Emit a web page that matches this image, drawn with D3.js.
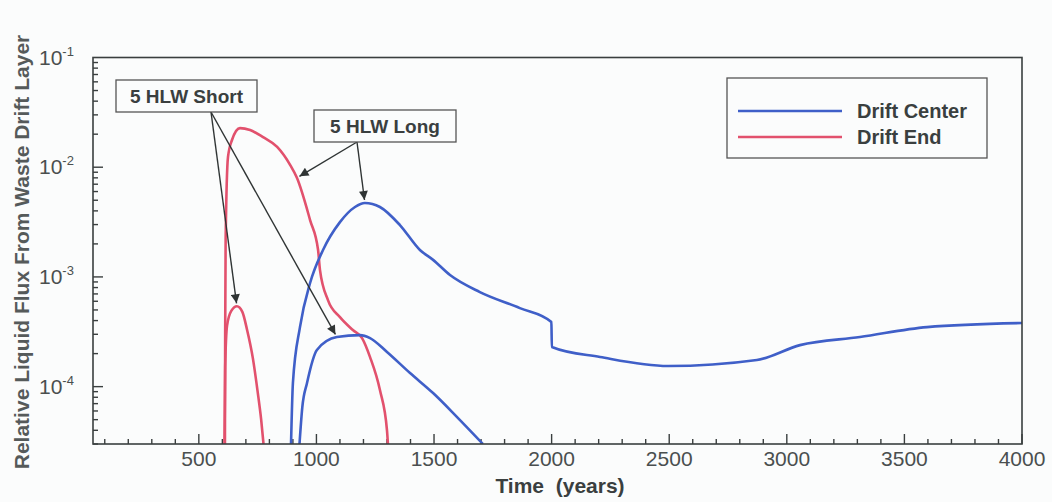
<!DOCTYPE html>
<html>
<head>
<meta charset="utf-8">
<script src="https://cdn.jsdelivr.net/npm/d3@7"></script>
<style>
  body { margin: 0; background: #fbfcfc; }
  svg { display: block; font-family: Arial, "Liberation Sans", sans-serif; }
</style>
</head>
<body>
<script>
var width = 1052,
    height = 502,
    margin = {top: 57.5, right: 30, bottom: 58, left: 93};

// drift center, 5 HLW long  [year, relative flux]
var centerLong = [[892, 3e-5], [900, 1.08e-4], [930, 3.49e-4], [973, 8.8e-4], [1028, 1.76e-3],
    [1100, 3.16e-3], [1164, 4.34e-3], [1206, 4.72e-3], [1270, 4.34e-3], [1355, 2.97e-3],
    [1440, 1.76e-3], [1496, 1.43e-3], [1568, 1.04e-3], [1695, 7.28e-4], [1865, 5.2e-4],
    [1999, 3.88e-4], [2001, 2.3e-4], [2206, 1.86e-4], [2495, 1.54e-4], [2873, 1.75e-4],
    [3056, 2.39e-4], [3311, 2.83e-4], [3596, 3.49e-4], [4000, 3.8e-4]];
// drift center, 5 HLW short
var centerShort = [[928, 3e-5], [940, 6.5e-5], [960, 1.08e-4], [1002, 2.16e-4], [1087, 2.83e-4],
    [1185, 2.95e-4], [1228, 2.77e-4], [1300, 2.07e-4], [1398, 1.33e-4], [1496, 8.74e-5],
    [1598, 5.28e-5], [1708, 3.0e-5]];
// drift end, 5 HLW long
var endLong = [[611, 3e-5], [612, 3e-4], [614, 2.2e-3], [624, 0.0124], [641, 0.0177],
    [675, 0.0227], [718, 0.0218], [773, 0.0188], [833, 0.0153], [888, 0.0105], [917, 0.008],
    [973, 0.0033], [1007, 0.00176], [1015, 1.16e-3], [1049, 6.15e-4], [1100, 4.3e-4],
    [1155, 3.28e-4], [1194, 2.77e-4], [1228, 1.86e-4], [1270, 9.3e-5], [1300, 4.0e-5], [1304, 3e-5]];
// drift end, 5 HLW short
var endShort = [[609, 3e-5], [612, 1.5e-4], [620, 3.6e-4], [638, 4.9e-4], [662, 5.4e-4],
    [685, 4.8e-4], [705, 3.3e-4], [730, 1.8e-4], [750, 9e-5], [765, 5e-5], [775, 3e-5]];

var xTicks = [500, 1000, 1500, 2000, 2500, 3000, 3500, 4000];
var yTicks = [1e-4, 1e-3, 1e-2, 1e-1];

var blue = "#3f5fc8", red = "#e2516d", ink = "#3a3f3f";

var svg = d3.select("body").append("svg")
    .attr("width", width)
    .attr("height", height);

var w = width - margin.left - margin.right,
    h = height - margin.top - margin.bottom;

var x = d3.scaleLinear().domain([50, 4000]).range([0, w]);
var y = d3.scaleLog().domain([3e-5, 0.1]).range([h, 0]);

var g = svg.append("g")
    .attr("transform", "translate(" + margin.left + "," + margin.top + ")");

g.append("clipPath").attr("id", "clip")
  .append("rect").attr("width", w).attr("height", h);

// minor + major ticks, pointing inward
var minorX = d3.range(100, 4001, 100);
g.selectAll(".xminor").data(minorX).enter().append("line")
    .attr("x1", function(d) { return x(d); })
    .attr("x2", function(d) { return x(d); })
    .attr("y1", h)
    .attr("y2", function(d) { return d % 500 ? h - 5 : h - 10; })
    .style("stroke", ink).style("stroke-width", 1.4);

var minorY = [];
[-5, -4, -3, -2].forEach(function(e) {
  for (var k = 1; k < 10; k++) {
    var v = k * Math.pow(10, e);
    if (v >= 3e-5 && v <= 0.1) minorY.push(v);
  }
});
g.selectAll(".yminor").data(minorY).enter().append("line")
    .attr("y1", function(d) { return y(d); })
    .attr("y2", function(d) { return y(d); })
    .attr("x1", 0)
    .attr("x2", function(d) { return Math.abs(Math.log10(d) - Math.round(Math.log10(d))) < 1e-6 ? 10 : 5; })
    .style("stroke", ink).style("stroke-width", 1.4);

// x tick labels
g.selectAll(".xlab").data(xTicks).enter().append("text")
    .attr("x", function(d) { return x(d); })
    .attr("y", h + 22)
    .attr("text-anchor", "middle")
    .style("font-size", "21px")
    .style("fill", "#4a4f4f")
    .text(function(d) { return d; });

// y tick labels 10^n
var ylab = g.selectAll(".ylab").data(yTicks).enter().append("text")
    .attr("x", -54)
    .attr("y", function(d) { return y(d) + 7; })
    .style("font-size", "21px")
    .style("fill", "#4a4f4f");
ylab.append("tspan").text("10");
ylab.append("tspan")
    .attr("dy", -9)
    .style("font-size", "13px")
    .text(function(d) { return Math.round(Math.log10(d)); });

// curves
var line = d3.line()
    .x(function(d) { return x(d[0]); })
    .y(function(d) { return y(d[1]); })
    .curve(d3.curveMonotoneX);

var series = [
  {data: endLong, color: red},
  {data: endShort, color: red},
  {data: centerLong, color: blue},
  {data: centerShort, color: blue}
];
g.append("g").attr("clip-path", "url(#clip)")
  .selectAll("path").data(series).enter().append("path")
    .attr("d", function(d) { return line(d.data); })
    .style("fill", "none")
    .style("stroke", function(d) { return d.color; })
    .style("stroke-width", 2.6)
    .style("stroke-linejoin", "round");

// frame
g.append("rect")
    .attr("width", w).attr("height", h)
    .style("fill", "none").style("stroke", ink).style("stroke-width", 1.6);

// annotations
svg.append("defs").append("marker")
    .attr("id", "arrow")
    .attr("viewBox", "0 0 10 10")
    .attr("refX", 10).attr("refY", 5)
    .attr("markerWidth", 12).attr("markerHeight", 9)
    .attr("markerUnits", "userSpaceOnUse")
    .attr("orient", "auto")
  .append("path").attr("d", "M0,0L10,5L0,10z").style("fill", "#2f3434");

function pt(d) { return [x(d[0]) + margin.left, y(d[1]) + margin.top]; }

var notes = [
  {label: "5 HLW Short", box: [116, 80, 141, 32], from: [211, 112],
   to: [[662, 5.4e-4], [1087, 2.83e-4]]},
  {label: "5 HLW Long", box: [314, 110, 142, 32], from: [357, 142],
   to: [[917, 0.008], [1206, 4.72e-3]]}
];
notes.forEach(function(n) {
  n.to.forEach(function(t) {
    var p = pt(t);
    var dx = n.from[0] - p[0], dy = n.from[1] - p[1], L = Math.sqrt(dx * dx + dy * dy);
    svg.append("line")
        .attr("x1", n.from[0]).attr("y1", n.from[1])
        .attr("x2", p[0] + dx / L * 3).attr("y2", p[1] + dy / L * 3)
        .attr("marker-end", "url(#arrow)")
        .style("stroke", "#2f3434").style("stroke-width", 1.4);
  });
  svg.append("rect")
      .attr("x", n.box[0]).attr("y", n.box[1])
      .attr("width", n.box[2]).attr("height", n.box[3])
      .style("fill", "#fbfcfc").style("stroke", "#555").style("stroke-width", 1.3);
  svg.append("text")
      .attr("x", n.box[0] + n.box[2] / 2).attr("y", n.box[1] + n.box[3] / 2 + 7)
      .attr("text-anchor", "middle")
      .style("font-size", "19px").style("font-weight", "bold").style("fill", ink)
      .text(n.label);
});

// legend
var legend = svg.append("g").attr("transform", "translate(727,78)");
legend.append("rect").attr("width", 260).attr("height", 80)
    .style("fill", "#fbfcfc").style("stroke", "#555").style("stroke-width", 1.3);
var legendItems = [{name: "Drift Center", color: blue}, {name: "Drift End", color: red}];
var li = legend.selectAll(".li").data(legendItems).enter().append("g")
    .attr("transform", function(d, i) { return "translate(0," + (33 + i * 26) + ")"; });
li.append("line").attr("x1", 11).attr("x2", 115)
    .style("stroke", function(d) { return d.color; }).style("stroke-width", 2.6);
li.append("text").attr("x", 130).attr("y", 7)
    .style("font-size", "20px").style("font-weight", "bold").style("fill", ink)
    .text(function(d) { return d.name; });

// axis titles
svg.append("text")
    .attr("x", 560).attr("y", 493)
    .attr("text-anchor", "middle")
    .style("font-size", "21px").style("font-weight", "bold").style("fill", ink)
    .attr("xml:space", "preserve")
    .text("Time  (years)");

svg.append("text")
    .attr("transform", "translate(29,252) rotate(-90)")
    .attr("text-anchor", "middle")
    .style("font-size", "21px").style("font-weight", "bold").style("fill", "#555a5a")
    .text("Relative Liquid Flux From Waste Drift Layer");
</script>
</body>
</html>
